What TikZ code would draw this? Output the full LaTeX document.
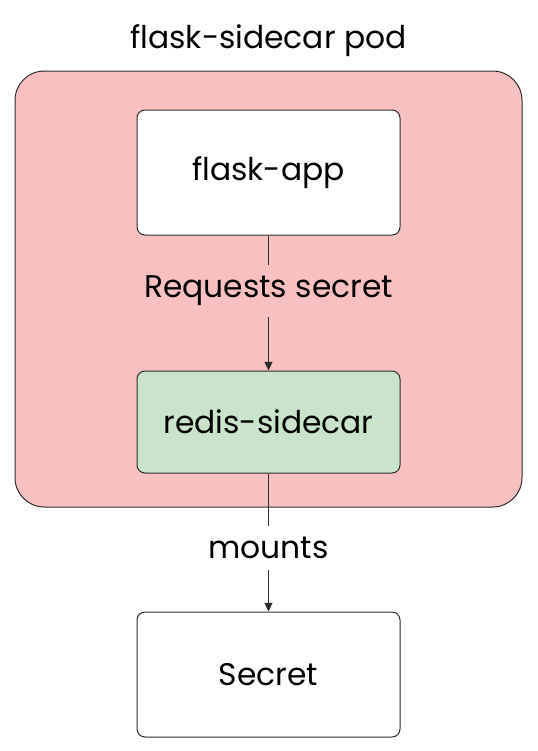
\documentclass[tikz,border=0pt]{standalone}
\usepackage{fontspec}
\setmainfont{Poppins}
\usetikzlibrary{arrows.meta}
\definecolor{podpink}{RGB}{248,193,193}
\definecolor{sidegreen}{RGB}{201,228,202}
\definecolor{edgegray}{RGB}{45,45,45}
\tikzset{every picture/.style={line width=0.75pt}}
\tikzset{
  podbox/.style={draw=edgegray, fill=podpink, rounded corners=22pt, minimum width=380.25pt, minimum height=327pt, inner sep=0pt},
  compbox/.style={draw=edgegray, fill=white, rounded corners=6pt, minimum width=197.25pt, minimum height=93.75pt, inner sep=0pt, font=\fontsize{23.5}{28}\selectfont},
  edgelabel/.style={inner sep=8pt, font=\fontsize{23.5}{28}\selectfont},
  flow/.style={draw=edgegray, line width=0.75pt},
  flowtip/.style={-{Triangle[length=6.5pt,width=6pt]}}
}

\begin{document}
\begin{tikzpicture}[x=0.75pt,y=0.75pt,yscale=-1,xscale=1]
\useasboundingbox (0,0) rectangle (537,751);

%Pod container
\node [podbox] (pod) at (268.5,289) {};
% Text Node
\node [font=\fontsize{23.5}{28}\selectfont] (podtitle) at (268.5,41) {flask-sidecar pod};

%Components
\node [compbox] (app) at (268.5,172.5) {flask-app};
\node [compbox, fill=sidegreen, minimum height=76.5pt] (redis) at (268.5,422) {redis-sidecar};
\node [compbox] (secret) at (268.5,674.5) {Secret};

% Text Node
\node [edgelabel] (req) at (268.5,291) {Requests secret};
% Text Node
\node [edgelabel] (mnt) at (268.5,548) {mounts};

%Connectors
\draw [flow] (app) -- (req);
\draw [flow, flowtip] (req) -- (redis);
\draw [flow] (redis) -- (mnt);
\draw [flow, flowtip] (mnt) -- (secret);

\end{tikzpicture}
\end{document}
